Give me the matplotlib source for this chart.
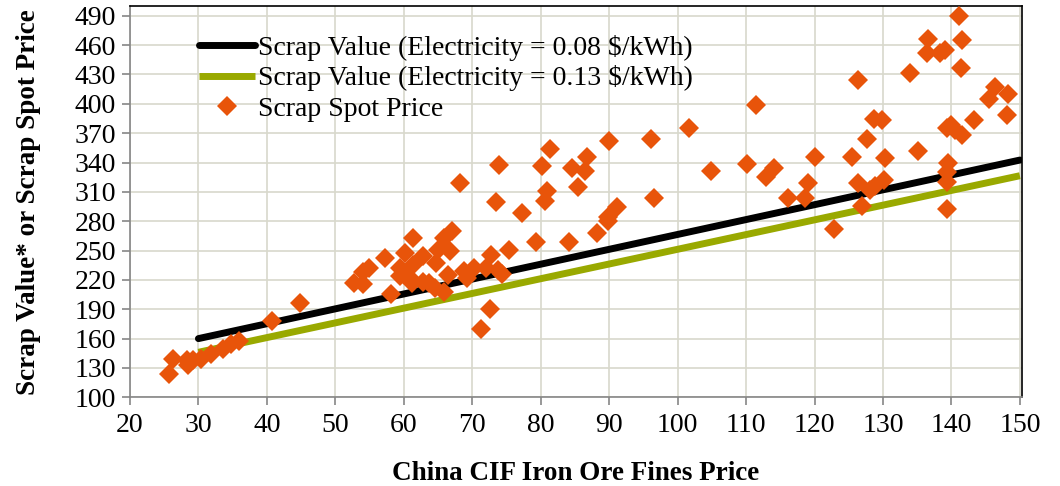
import matplotlib.pyplot as plt

# scrap value lines (straight lines, read at the ends)
ore_line = [30, 150]
scrap_008 = [160, 342.5]
scrap_013 = [146, 326.5]

# scrap spot price vs iron ore price
ore_price = [25.7, 26.3, 28.3, 28.5, 29.2, 30.4, 31.9, 33.6, 34.8, 36.0, 40.8, 44.9,
             52.8, 54.0, 54.0, 54.9, 57.3, 58.1, 59.4, 59.5, 60.2, 60.8, 61.3, 61.4,
             61.2, 62.8, 62.8, 63.7, 64.5, 64.7, 65.0, 65.9, 65.9, 66.5, 66.8, 67.1,
             68.2, 68.8, 69.3, 70.3, 71.3, 72.0, 72.6, 72.7, 73.5, 73.9, 73.7, 74.4,
             75.4, 77.3,
             79.3, 80.7, 80.9, 80.2, 81.4, 84.1, 84.6, 85.5, 86.5, 86.7, 88.2, 89.8,
             89.9, 90.0, 91.2, 96.1, 96.5, 101.6, 104.9, 110.1, 111.4,
             112.9, 114.1, 116.1, 118.6, 119.0, 120.1, 122.9, 125.5, 126.3, 126.4,
             127.0, 127.6, 128.1, 128.8, 128.7, 129.8, 130.1, 130.3, 134.0, 135.1,
             136.6, 136.5, 138.3, 139.1, 141.1, 141.5, 141.4, 139.3, 140.0, 140.5,
             141.5, 139.5, 139.3, 139.3, 139.3, 143.3, 145.5, 146.4, 148.2, 148.1]
spot_price = [123.5, 139, 138, 133, 138.5, 139, 144, 149, 154.5, 158, 178, 196,
              217, 215.5, 228, 232.5, 242, 206, 232, 224.5, 247.5, 223, 235, 262.5,
              217, 244.5, 218, 216.5, 212, 237, 250.5, 263, 208, 225, 249.5, 270.5,
              319, 229, 221.6, 232, 169.5, 232, 190.5, 245, 299.5, 337, 230, 226,
              251, 288,
              258.5, 301, 311, 336.5, 354, 259, 334, 315, 331.5, 346, 268, 280,
              284, 361.5, 294.5, 364, 303.5, 375, 331.6, 338, 399,
              325.5, 334, 304, 304, 319.5, 346, 272.5, 346, 424, 319.5,
              295.5, 364, 312, 315.5, 384, 383.5, 322, 344.5, 432, 352,
              466, 451.5, 452, 454.5, 490, 465, 436.5, 375, 378.5, 373,
              368, 340, 330.5, 320, 292, 383.5, 404.5, 417, 410, 388.5]

plt.rcParams['font.family'] = ['Liberation Serif', 'DejaVu Serif']

fig = plt.figure(figsize=(10.6, 4.86), dpi=100)
ax = fig.add_axes([0.1226, 0.1825, 0.8415, 0.8052])

ax.plot(ore_line, scrap_008, color='black', lw=5, solid_capstyle='round',
        label='Scrap Value (Electricity = 0.08 $/kWh)', zorder=3)
ax.plot(ore_line, scrap_013, color='#99A900', lw=5, solid_capstyle='butt',
        label='Scrap Value (Electricity = 0.13 $/kWh)', zorder=3)
ax.plot(ore_price, spot_price, 'D', color='#E8540A', ms=10, mew=0,
        label='Scrap Spot Price', zorder=4)

ax.set_xlim(20, 150.3)
ax.set_ylim(100, 500)
ax.set_xticks(range(20, 151, 10))
ax.set_yticks(range(100, 491, 30))
ax.grid(True, color='#D8D8CC', lw=1.2)
ax.set_axisbelow(True)

for side in ['top', 'right']:
    ax.spines[side].set_color('black')
    ax.spines[side].set_linewidth(1.2)
for side in ['left', 'bottom']:
    ax.spines[side].set_color('#868686')
    ax.spines[side].set_linewidth(1.2)
ax.tick_params(axis='both', labelsize=20, color='#868686', length=6, width=1.2)
ax.tick_params(axis='y', pad=4)
ax.tick_params(axis='x', pad=5)

ax.set_xlabel('China CIF Iron Ore Fines Price', fontsize=19.5, fontweight='bold', labelpad=17)
ax.set_ylabel('Scrap Value* or Scrap Spot Price', fontsize=19.5, fontweight='bold', labelpad=24)

ax.legend(loc='upper left', bbox_to_anchor=(0.062, 0.962), frameon=False, fontsize=20,
          handlelength=2.0, handletextpad=0.12, labelspacing=0.17, borderpad=0)

fig.savefig('out.png', dpi=100)
